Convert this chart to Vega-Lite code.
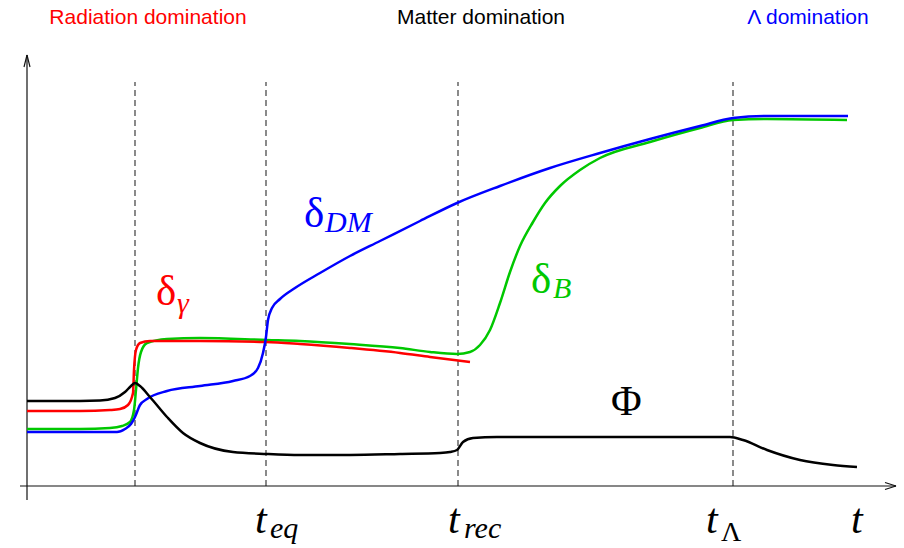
{
  "$schema": "https://vega.github.io/schema/vega-lite/v6.json",
  "width": 904,
  "height": 548,
  "padding": 0,
  "autosize": {"type": "fit", "contains": "padding"},
  "background": "white",
  "view": {"stroke": null},
  "datasets": {
    "curves": [
      {"s": "B", "x": 0, "y": 57}, {"s": "B", "x": 53, "y": 57}, {"s": "B", "x": 83, "y": 58}, {"s": "B", "x": 95, "y": 60}, {"s": "B", "x": 103, "y": 64}, {"s": "B", "x": 107, "y": 76}, {"s": "B", "x": 109, "y": 96}, {"s": "B", "x": 111, "y": 118}, {"s": "B", "x": 114, "y": 134}, {"s": "B", "x": 120, "y": 143}, {"s": "B", "x": 140, "y": 147}, {"s": "B", "x": 173, "y": 148}, {"s": "B", "x": 240, "y": 146}, {"s": "B", "x": 273, "y": 145}, {"s": "B", "x": 323, "y": 142}, {"s": "B", "x": 373, "y": 138}, {"s": "B", "x": 403, "y": 134}, {"s": "B", "x": 430, "y": 132}, {"s": "B", "x": 443, "y": 134}, {"s": "B", "x": 453, "y": 141}, {"s": "B", "x": 463, "y": 156}, {"s": "B", "x": 473, "y": 183}, {"s": "B", "x": 483, "y": 214}, {"s": "B", "x": 493, "y": 240}, {"s": "B", "x": 506, "y": 264}, {"s": "B", "x": 518, "y": 283}, {"s": "B", "x": 533, "y": 300}, {"s": "B", "x": 553, "y": 316}, {"s": "B", "x": 573, "y": 328}, {"s": "B", "x": 623, "y": 344}, {"s": "B", "x": 673, "y": 358}, {"s": "B", "x": 706, "y": 366}, {"s": "B", "x": 740, "y": 367}, {"s": "B", "x": 820, "y": 366},
      {"s": "gamma", "x": 0, "y": 75}, {"s": "gamma", "x": 53, "y": 75}, {"s": "gamma", "x": 83, "y": 76}, {"s": "gamma", "x": 93, "y": 77}, {"s": "gamma", "x": 101, "y": 81}, {"s": "gamma", "x": 106, "y": 93}, {"s": "gamma", "x": 107, "y": 116}, {"s": "gamma", "x": 109, "y": 136}, {"s": "gamma", "x": 113, "y": 143}, {"s": "gamma", "x": 123, "y": 145}, {"s": "gamma", "x": 173, "y": 145}, {"s": "gamma", "x": 239, "y": 144}, {"s": "gamma", "x": 273, "y": 142}, {"s": "gamma", "x": 323, "y": 138}, {"s": "gamma", "x": 373, "y": 133}, {"s": "gamma", "x": 403, "y": 129}, {"s": "gamma", "x": 443, "y": 124},
      {"s": "DM", "x": 0, "y": 54}, {"s": "DM", "x": 53, "y": 54}, {"s": "DM", "x": 90, "y": 54}, {"s": "DM", "x": 98, "y": 57}, {"s": "DM", "x": 104, "y": 62}, {"s": "DM", "x": 108, "y": 69}, {"s": "DM", "x": 113, "y": 81}, {"s": "DM", "x": 120, "y": 87}, {"s": "DM", "x": 140, "y": 95}, {"s": "DM", "x": 173, "y": 100}, {"s": "DM", "x": 206, "y": 105}, {"s": "DM", "x": 223, "y": 110}, {"s": "DM", "x": 231, "y": 118}, {"s": "DM", "x": 236, "y": 133}, {"s": "DM", "x": 239, "y": 149}, {"s": "DM", "x": 241, "y": 166}, {"s": "DM", "x": 245, "y": 178}, {"s": "DM", "x": 253, "y": 187}, {"s": "DM", "x": 268, "y": 198}, {"s": "DM", "x": 293, "y": 213}, {"s": "DM", "x": 323, "y": 230}, {"s": "DM", "x": 353, "y": 245}, {"s": "DM", "x": 393, "y": 265}, {"s": "DM", "x": 430, "y": 283}, {"s": "DM", "x": 473, "y": 300}, {"s": "DM", "x": 523, "y": 318}, {"s": "DM", "x": 573, "y": 333}, {"s": "DM", "x": 623, "y": 347}, {"s": "DM", "x": 673, "y": 360}, {"s": "DM", "x": 706, "y": 368}, {"s": "DM", "x": 740, "y": 370}, {"s": "DM", "x": 821, "y": 370},
      {"s": "phi", "x": 0, "y": 85}, {"s": "phi", "x": 33, "y": 85}, {"s": "phi", "x": 73, "y": 85.5}, {"s": "phi", "x": 88, "y": 88}, {"s": "phi", "x": 98, "y": 94}, {"s": "phi", "x": 104, "y": 100}, {"s": "phi", "x": 108, "y": 103}, {"s": "phi", "x": 113, "y": 100}, {"s": "phi", "x": 123, "y": 89}, {"s": "phi", "x": 140, "y": 69}, {"s": "phi", "x": 156, "y": 53}, {"s": "phi", "x": 173, "y": 43}, {"s": "phi", "x": 206, "y": 34}, {"s": "phi", "x": 240, "y": 32}, {"s": "phi", "x": 273, "y": 31}, {"s": "phi", "x": 323, "y": 31}, {"s": "phi", "x": 373, "y": 32}, {"s": "phi", "x": 413, "y": 33}, {"s": "phi", "x": 423, "y": 34}, {"s": "phi", "x": 430, "y": 36}, {"s": "phi", "x": 436, "y": 44}, {"s": "phi", "x": 446, "y": 48}, {"s": "phi", "x": 470, "y": 49}, {"s": "phi", "x": 523, "y": 49}, {"s": "phi", "x": 623, "y": 49}, {"s": "phi", "x": 673, "y": 49}, {"s": "phi", "x": 703, "y": 49}, {"s": "phi", "x": 716, "y": 46}, {"s": "phi", "x": 740, "y": 36}, {"s": "phi", "x": 773, "y": 26}, {"s": "phi", "x": 806, "y": 21}, {"s": "phi", "x": 830, "y": 19}
    ],
    "epochs": [
      {"name": "onset", "x": 108}, {"name": "eq", "x": 239}, {"name": "rec", "x": 431}, {"name": "lambda", "x": 706}
    ],
    "axes": [
      {"x": -7, "y": 0, "x2": 869, "y2": 0},
      {"x": 858, "y": 3.5, "x2": 869, "y2": 0},
      {"x": 858, "y": -3.5, "x2": 869, "y2": 0},
      {"x": 0, "y": -14, "x2": 0, "y2": 431},
      {"x": -3, "y": 419, "x2": 0, "y2": 431},
      {"x": 3, "y": 419, "x2": 0, "y2": 431}
    ],
    "regimes": [
      {"label": "Radiation domination", "r": "radiation", "x": 121, "y": 462},
      {"label": "Matter domination", "r": "matter", "x": 454, "y": 462},
      {"label": "Λ domination", "r": "lambda", "x": 781, "y": 462}
    ],
    "greek": [
      {"label": "δ", "s": "DM", "x": 277, "y": 259},
      {"label": "δ", "s": "gamma", "x": 129, "y": 181},
      {"label": "δ", "s": "B", "x": 504, "y": 193}
    ],
    "phi": [
      {"label": "Φ", "s": "phi", "x": 584, "y": 71}
    ],
    "subs": [
      {"label": "DM", "s": "DM", "x": 298, "y": 254},
      {"label": "γ", "s": "gamma", "x": 150, "y": 173},
      {"label": "B", "s": "B", "x": 526, "y": 188}
    ],
    "times": [
      {"label": "t", "x": 228, "y": -47},
      {"label": "t", "x": 421, "y": -47},
      {"label": "t", "x": 679, "y": -47},
      {"label": "t", "x": 824, "y": -47}
    ],
    "timesubs": [
      {"label": "eq", "x": 243, "y": -52},
      {"label": "rec", "x": 437, "y": -52}
    ],
    "lambdasub": [
      {"label": "Λ", "x": 694, "y": -55}
    ]
  },
  "layer": [
    {
      "data": {"name": "epochs"},
      "mark": {"type": "rule", "color": "#2a2a2a", "strokeWidth": 1.1, "strokeDash": [6, 4]},
      "encoding": {
        "x": {"field": "x", "type": "quantitative", "scale": {"domain": [-27, 877], "nice": false, "zero": false}, "axis": null},
        "y": {"datum": 0, "type": "quantitative", "scale": {"domain": [-62, 486], "nice": false, "zero": false}, "axis": null},
        "y2": {"datum": 404}
      }
    },
    {
      "data": {"name": "axes"},
      "mark": {"type": "rule", "color": "#111111", "strokeWidth": 1.2},
      "encoding": {
        "x": {"field": "x", "type": "quantitative", "axis": null},
        "y": {"field": "y", "type": "quantitative", "axis": null},
        "x2": {"field": "x2"},
        "y2": {"field": "y2"}
      }
    },
    {
      "data": {"name": "curves"},
      "mark": {"type": "line", "interpolate": "monotone", "strokeWidth": 2.5},
      "encoding": {
        "x": {"field": "x", "type": "quantitative", "axis": null},
        "y": {"field": "y", "type": "quantitative", "axis": null},
        "color": {"field": "s", "type": "nominal", "scale": {"domain": ["B", "gamma", "DM", "phi"], "range": ["#00c800", "#ff0000", "#0000ff", "#000000"]}, "legend": null}
      }
    },
    {
      "data": {"name": "greek"},
      "mark": {"type": "text", "font": "Liberation Serif", "fontSize": 43, "align": "left", "baseline": "alphabetic"},
      "encoding": {
        "x": {"field": "x", "type": "quantitative", "axis": null},
        "y": {"field": "y", "type": "quantitative", "axis": null},
        "text": {"field": "label"},
        "color": {"field": "s", "type": "nominal", "legend": null}
      }
    },
    {
      "data": {"name": "phi"},
      "mark": {"type": "text", "font": "Liberation Serif", "fontSize": 42, "align": "left", "baseline": "alphabetic"},
      "encoding": {
        "x": {"field": "x", "type": "quantitative", "axis": null},
        "y": {"field": "y", "type": "quantitative", "axis": null},
        "text": {"field": "label"},
        "color": {"field": "s", "type": "nominal", "legend": null}
      }
    },
    {
      "data": {"name": "subs"},
      "mark": {"type": "text", "font": "Liberation Serif", "fontStyle": "italic", "fontSize": 30, "align": "left", "baseline": "alphabetic"},
      "encoding": {
        "x": {"field": "x", "type": "quantitative", "axis": null},
        "y": {"field": "y", "type": "quantitative", "axis": null},
        "text": {"field": "label"},
        "color": {"field": "s", "type": "nominal", "legend": null}
      }
    },
    {
      "data": {"name": "regimes"},
      "mark": {"type": "text", "font": "Liberation Sans", "fontSize": 21, "align": "center", "baseline": "alphabetic"},
      "encoding": {
        "x": {"field": "x", "type": "quantitative", "axis": null},
        "y": {"field": "y", "type": "quantitative", "axis": null},
        "text": {"field": "label"},
        "fill": {"field": "r", "type": "nominal", "scale": {"domain": ["radiation", "matter", "lambda"], "range": ["#ff0000", "#000000", "#0000ff"]}, "legend": null}
      }
    },
    {
      "data": {"name": "times"},
      "mark": {"type": "text", "font": "Liberation Serif", "fontStyle": "italic", "fontSize": 42, "align": "left", "baseline": "alphabetic", "color": "#000000"},
      "encoding": {
        "x": {"field": "x", "type": "quantitative", "axis": null},
        "y": {"field": "y", "type": "quantitative", "axis": null},
        "text": {"field": "label"}
      }
    },
    {
      "data": {"name": "timesubs"},
      "mark": {"type": "text", "font": "Liberation Serif", "fontStyle": "italic", "fontSize": 30, "align": "left", "baseline": "alphabetic", "color": "#000000"},
      "encoding": {
        "x": {"field": "x", "type": "quantitative", "axis": null},
        "y": {"field": "y", "type": "quantitative", "axis": null},
        "text": {"field": "label"}
      }
    },
    {
      "data": {"name": "lambdasub"},
      "mark": {"type": "text", "font": "Liberation Serif", "fontSize": 28, "align": "left", "baseline": "alphabetic", "color": "#000000"},
      "encoding": {
        "x": {"field": "x", "type": "quantitative", "axis": null},
        "y": {"field": "y", "type": "quantitative", "axis": null},
        "text": {"field": "label"}
      }
    }
  ]
}
